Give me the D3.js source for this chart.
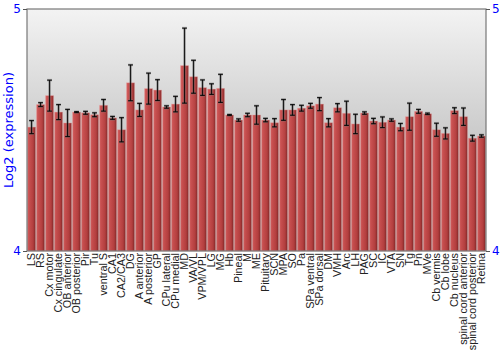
<!DOCTYPE html>
<html>
<head>
<meta charset="utf-8">
<script src="https://cdn.jsdelivr.net/npm/d3@7"></script>
<style>
  body { margin: 0; background: #fff; }
  svg { display: block; }
  .ylab { font-family: "DejaVu Sans", sans-serif; font-size: 12px; fill: #0000ff; }
  .xlab { font-family: "Liberation Sans", Arial, sans-serif; font-size: 10.8px; fill: #222; }
</style>
</head>
<body>
<div id="chart"></div>
<script>
const regions = ['LS', 'RS', 'Cx motor', 'Cx cingulate', 'OB anterior', 'OB posterior', 'Pir', 'Tu',
  'ventral S', 'CA1', 'CA2/CA3', 'DG', 'A anterior', 'A posterior', 'GP', 'CPu lateral', 'CPu medial',
  'MD', 'VA/VL', 'VPM/VPL', 'LG', 'MG', 'Hb', 'Pineal', 'M', 'ME', 'Pituitary', 'SCN', 'MPA', 'SO',
  'Pa', 'SPa ventral', 'SPa dorsal', 'DM', 'VMH', 'Arc', 'LH', 'PAG', 'SC', 'IC', 'VTA', 'SN', 'Tg',
  'Pn', 'MVe', 'Cb vermis', 'Cb lobe', 'Cb nucleus', 'spinal cord anterior', 'spinal cord posterior', 'Retina']

const means = [4.512, 4.605, 4.642, 4.574, 4.529, 4.574, 4.571, 4.563,
  4.602, 4.550, 4.501, 4.695, 4.583, 4.671, 4.665, 4.595, 4.607,
  4.766, 4.720, 4.675, 4.669, 4.672, 4.562, 4.541, 4.562, 4.562, 4.541, 4.530, 4.583, 4.583,
  4.590, 4.600, 4.607, 4.530, 4.592, 4.569, 4.525, 4.570, 4.537, 4.532, 4.541, 4.512, 4.555,
  4.577, 4.567, 4.501, 4.486, 4.580, 4.555, 4.466, 4.475]

const errs = [0.027, 0.008, 0.064, 0.031, 0.056, 0.002, 0.006, 0.008,
  0.024, 0.006, 0.050, 0.074, 0.027, 0.064, 0.043, 0.005, 0.032,
  0.155, 0.068, 0.032, 0.022, 0.058, 0.002, 0.005, 0.007, 0.038, 0.007, 0.017, 0.043, 0.022,
  0.012, 0.010, 0.027, 0.017, 0.017, 0.050, 0.040, 0.005, 0.011, 0.022, 0.005, 0.015, 0.056,
  0.008, 0.003, 0.027, 0.023, 0.012, 0.036, 0.012, 0.005]

const yTicks = [4, 5]

const W = 500
const H = 350
const margin = { top: 9, right: 14, bottom: 99, left: 27 }

const data = regions.map((name, i) => ({ name, mean: means[i], err: errs[i] }))

const svg = d3.select('#chart').append('svg')
  .attr('width', W)
  .attr('height', H)

const x = d3.scaleBand()
  .domain(regions)
  .range([margin.left, W - margin.right])
  .paddingInner(0.11)
  .paddingOuter(0.06)

const y = d3.scaleLinear()
  .domain([4, 5])
  .range([H - margin.bottom, margin.top])

const defs = svg.append('defs')

const bg = defs.append('linearGradient')
  .attr('id', 'bg')
  .attr('x1', 0).attr('y1', 0).attr('x2', 0).attr('y2', 1)
bg.append('stop').attr('offset', '0%').attr('stop-color', '#f3f3f3')
bg.append('stop').attr('offset', '100%').attr('stop-color', '#a6a6a6')

const barGrad = defs.append('linearGradient')
  .attr('id', 'bar')
  .attr('x1', 0).attr('y1', 0).attr('x2', 1).attr('y2', 0)
barGrad.append('stop').attr('offset', '0%').attr('stop-color', '#d45858')
barGrad.append('stop').attr('offset', '20%').attr('stop-color', '#c94444')
barGrad.append('stop').attr('offset', '70%').attr('stop-color', '#b33232')
barGrad.append('stop').attr('offset', '100%').attr('stop-color', '#7a1818')

// plot background
svg.append('rect')
  .attr('x', margin.left)
  .attr('y', margin.top)
  .attr('width', W - margin.left - margin.right)
  .attr('height', H - margin.top - margin.bottom)
  .attr('fill', 'url(#bg)')

// bars
svg.append('g').selectAll('rect')
  .data(data)
  .join('rect')
  .attr('x', d => x(d.name))
  .attr('y', d => y(d.mean))
  .attr('width', x.bandwidth())
  .attr('height', d => y(4) - y(d.mean))
  .attr('fill', 'url(#bar)')
  .attr('fill-opacity', 0.9)
  .attr('stroke', '#e8a0a0')
  .attr('stroke-opacity', 0.45)
  .attr('stroke-width', 0.8)

// error bars
const errG = svg.append('g')
const capW = 2.4

function drawErr(g, color, width, opacity) {
  const eb = g.selectAll(null)
    .data(data)
    .join('g')
    .attr('stroke', color)
    .attr('stroke-width', width)
    .attr('stroke-opacity', opacity)
  eb.append('line')
    .attr('x1', d => x(d.name) + x.bandwidth() / 2)
    .attr('x2', d => x(d.name) + x.bandwidth() / 2)
    .attr('y1', d => y(d.mean + d.err))
    .attr('y2', d => y(d.mean - d.err))
  eb.append('line')
    .attr('x1', d => x(d.name) + x.bandwidth() / 2 - capW)
    .attr('x2', d => x(d.name) + x.bandwidth() / 2 + capW)
    .attr('y1', d => y(d.mean + d.err))
    .attr('y2', d => y(d.mean + d.err))
  eb.append('line')
    .attr('x1', d => x(d.name) + x.bandwidth() / 2 - capW)
    .attr('x2', d => x(d.name) + x.bandwidth() / 2 + capW)
    .attr('y1', d => y(d.mean - d.err))
    .attr('y2', d => y(d.mean - d.err))
}
drawErr(errG, '#777', 2.6, 0.45)
drawErr(errG, '#000', 1.2, 0.85)

// frame
svg.append('rect')
  .attr('x', margin.left)
  .attr('y', margin.top)
  .attr('width', W - margin.left - margin.right)
  .attr('height', H - margin.top - margin.bottom)
  .attr('fill', 'none')
  .attr('stroke', '#777')
  .attr('stroke-width', 1.2)

// y axes, both sides
const leftAxis = svg.append('g')
  .attr('transform', `translate(${margin.left},0)`)
  .call(d3.axisLeft(y).tickValues(yTicks).tickFormat(d3.format('d')).tickSize(4).tickPadding(2))
const rightAxis = svg.append('g')
  .attr('transform', `translate(${W - margin.right},0)`)
  .call(d3.axisRight(y).tickValues(yTicks).tickFormat(d3.format('d')).tickSize(4).tickPadding(2))

;[leftAxis, rightAxis].forEach(ax => {
  ax.select('.domain').remove()
  ax.selectAll('.tick line').attr('stroke', '#555')
  ax.selectAll('.tick text')
    .attr('class', 'ylab')
    .attr('font-size', null)
    .attr('font-family', null)
    .attr('fill', null)
})

// y title
svg.append('text')
  .attr('transform', `translate(13,${(margin.top + H - margin.bottom) / 2}) rotate(-90)`)
  .attr('text-anchor', 'middle')
  .attr('font-family', 'DejaVu Sans, sans-serif')
  .attr('font-size', 13)
  .attr('fill', '#0000ff')
  .text('Log2 (expression)')

// category labels
svg.append('g').selectAll('text')
  .data(data)
  .join('text')
  .attr('class', 'xlab')
  .attr('transform', d => `translate(${x(d.name) + x.bandwidth() / 2},${H - margin.bottom + 2}) rotate(-90)`)
  .attr('text-anchor', 'end')
  .attr('dy', '0.35em')
  .text(d => d.name)
</script>
</body>
</html>
